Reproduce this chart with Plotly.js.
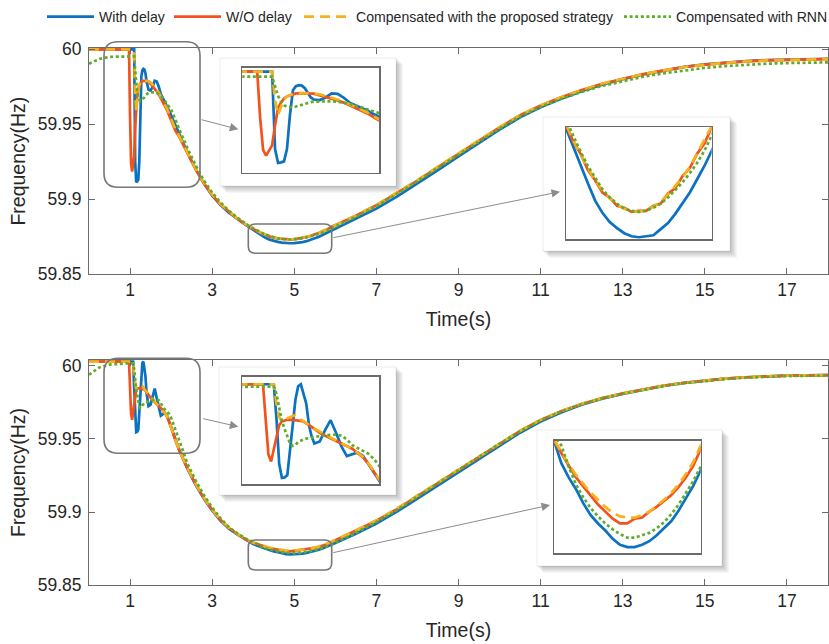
<!DOCTYPE html>
<html><head><meta charset="utf-8">
<script src="https://cdn.plot.ly/plotly-3.0.1.min.js"></script>
<style>html,body{margin:0;padding:0;background:#fff}#chart{width:829px;height:644px}</style>
</head><body><div id="chart"></div>
<script>
// ---------------- DATA ----------------
const time = [0, 0.25, 0.5, 0.75, 0.9,
  0.95, 0.975, 1.0, 1.025, 1.05, 1.075, 1.1, 1.125, 1.15, 1.175, 1.2, 1.225, 1.25, 1.275, 1.3, 1.325, 1.35, 1.375, 1.4, 1.425, 1.45,
  1.5, 1.55, 1.6, 1.65, 1.7, 1.75, 1.8, 1.85, 1.9, 1.95, 2.0,
  2.1, 2.2,
  2.4, 2.6, 2.8, 3.0, 3.2, 3.4, 3.6, 3.8,
  3.9, 4.0, 4.1, 4.2, 4.3, 4.4, 4.5, 4.6, 4.7, 4.8, 4.9, 5.0, 5.1, 5.2, 5.3, 5.4, 5.5, 5.6, 5.7, 5.8, 5.9, 6.0,
  6.5, 7, 7.5, 8, 8.5, 9, 9.5, 10, 10.5, 11, 11.5, 12, 12.5, 13, 13.5, 14, 14.5, 15, 15.5, 16, 16.5, 17, 17.5, 18];

// upper panel
const topWithDelay = [60, 60, 60, 60, 60,
  60, 60, 60, 60, 60, 60, 60, 59.925, 59.9114, 59.912, 59.913, 59.925, 59.958, 59.982, 59.986, 59.987, 59.9865, 59.984, 59.979, 59.975, 59.973,
  59.9725, 59.975, 59.979, 59.9785, 59.975, 59.970, 59.9675, 59.965, 59.9625, 59.959, 59.956,
  59.9495, 59.943,
  59.931, 59.920, 59.9105, 59.9025, 59.8963, 59.8913, 59.887, 59.8832,
  59.8814, 59.8795, 59.8778, 59.876, 59.8743, 59.8731, 59.8722, 59.8716, 59.8711, 59.8708, 59.8707, 59.8708, 59.8709, 59.8715, 59.8721, 59.873, 59.8741, 59.8751, 59.8764, 59.8777, 59.8792, 59.8806,
  59.8868, 59.8938, 59.9018, 59.9104, 59.9195, 59.9286, 59.9377, 59.9464, 59.9546, 59.9613, 59.967, 59.972, 59.9764, 59.9801, 59.9832, 59.9858, 59.9883, 59.99, 59.9912, 59.9921, 59.9928, 59.9932, 59.9935, 59.9937];
const topNoDelay = [60, 60, 60, 60, 60,
  60, 60, 59.955, 59.924, 59.9185, 59.923, 59.9285, 59.948, 59.965, 59.970, 59.974, 59.976, 59.977, 59.978, 59.979, 59.979, 59.979, 59.979, 59.979, 59.979, 59.9787,
  59.977, 59.9755, 59.974, 59.972, 59.970, 59.9675, 59.965, 59.9625, 59.9595, 59.956, 59.9526,
  59.946, 59.9415,
  59.9305, 59.920, 59.9105, 59.903, 59.8967, 59.8917, 59.8873, 59.8835,
  59.8817, 59.8801, 59.8789, 59.8773, 59.8763, 59.8751, 59.8746, 59.8738, 59.8736, 59.8732, 59.8733, 59.8733, 59.8738, 59.874, 59.875, 59.8755, 59.8767, 59.8775, 59.8789, 59.8799, 59.8815, 59.8827,
  59.889, 59.896, 59.904, 59.9125, 59.9215, 59.9305, 59.9395, 59.948, 59.956, 59.9625, 59.968, 59.9728, 59.977, 59.9805, 59.9835, 59.986, 59.9882, 59.9898, 59.991, 59.9919, 59.9926, 59.993, 59.9933, 59.9935];
const topProposed = [60, 60, 60, 60, 60,
  60, 60, 60, 60, 60, 60, 60, 59.972, 59.958, 59.966, 59.973, 59.976, 59.9775, 59.9785, 59.979, 59.9795, 59.9795, 59.9792, 59.979, 59.9788, 59.9785,
  59.978, 59.9765, 59.975, 59.973, 59.971, 59.9685, 59.966, 59.9635, 59.9605, 59.957, 59.9535,
  59.947, 59.942,
  59.931, 59.9203, 59.911, 59.9033, 59.897, 59.892, 59.8875, 59.8836,
  59.8818, 59.8802, 59.8788, 59.8775, 59.8763, 59.8753, 59.8745, 59.8739, 59.8735, 59.8733, 59.8732, 59.8734, 59.8737, 59.8742, 59.8749, 59.8757, 59.8766, 59.8776, 59.8788, 59.88, 59.8813, 59.8826,
  59.8893, 59.8963, 59.9043, 59.9128, 59.9218, 59.9307, 59.9397, 59.9482, 59.9561, 59.9626, 59.968, 59.9728, 59.977, 59.9805, 59.9835, 59.986, 59.9882, 59.9898, 59.991, 59.9919, 59.9926, 59.993, 59.9933, 59.9935];
const topRNN = [59.9904, 59.9935, 59.995, 59.9953, 59.9953,
  59.9953, 59.9953, 59.9953, 59.9953, 59.9953, 59.9953, 59.9953, 59.986, 59.9765, 59.971, 59.9675, 59.966, 59.9655, 59.9656, 59.9662, 59.9672, 59.968, 59.969, 59.970, 59.9705, 59.971,
  59.9713, 59.9713, 59.9712, 59.971, 59.970, 59.9688, 59.9672, 59.9655, 59.9637, 59.9618, 59.9598,
  59.9535, 59.9465,
  59.934, 59.9225, 59.9125, 59.9045, 59.898, 59.8926, 59.888, 59.8838,
  59.8822, 59.8807, 59.8791, 59.8777, 59.8765, 59.8754, 59.8746, 59.874, 59.8735, 59.8733, 59.8732, 59.8733, 59.8736, 59.874, 59.8746, 59.8753, 59.8761, 59.877, 59.878, 59.8792, 59.8805, 59.8818,
  59.8885, 59.8956, 59.9036, 59.9121, 59.921, 59.9298, 59.9387, 59.9472, 59.9552, 59.9617, 59.967, 59.9716, 59.9756, 59.9788, 59.9817, 59.984, 59.986, 59.9876, 59.9888, 59.9897, 59.9904, 59.9908, 59.9911, 59.9913];

// lower panel
const botWithDelay = [60.003, 60.003, 60.003, 60.003, 60.003,
  60.003, 60.003, 60.003, 60.003, 60.003, 60.003, 59.985, 59.962, 59.9547, 59.955, 59.9562, 59.968, 59.982, 59.995, 60.002, 60.003, 59.9985, 59.993, 59.982, 59.976, 59.9725,
  59.9735, 59.9795, 59.9845, 59.978, 59.971, 59.966, 59.967, 59.9678, 59.966, 59.962, 59.9575,
  59.949, 59.9425,
  59.9295, 59.9185, 59.909, 59.901, 59.8942, 59.8888, 59.8848, 59.8813,
  59.880, 59.8781, 59.8769, 59.8759, 59.8747, 59.8737, 59.873, 59.8724, 59.8717, 59.8712, 59.871, 59.871, 59.8712, 59.8715, 59.872, 59.8726, 59.8732, 59.8741, 59.8752, 59.8762, 59.8775, 59.8788,
  59.8851, 59.8921, 59.9002, 59.9092, 59.9183, 59.9274, 59.9365, 59.9456, 59.9543, 59.962, 59.9682, 59.9734, 59.9776, 59.9809, 59.9838, 59.9864, 59.9884, 59.99, 59.9913, 59.9923, 59.993, 59.9934, 59.9936, 59.9937];
const botNoDelay = [60.003, 60.003, 60.003, 60.003, 60.003,
  60.003, 60.003, 59.985, 59.967, 59.9632, 59.969, 59.976, 59.982, 59.9839, 59.9844, 59.9847, 59.9848, 59.9847, 59.9845, 59.9843, 59.9841, 59.9838, 59.983, 59.982, 59.981, 59.980,
  59.978, 59.9765, 59.9752, 59.9737, 59.9722, 59.971, 59.9698, 59.9675, 59.9653, 59.962, 59.9575,
  59.9495, 59.942,
  59.9298, 59.919, 59.9095, 59.9015, 59.8947, 59.8892, 59.885, 59.8814,
  59.880, 59.8789, 59.8779, 59.8769, 59.8761, 59.8753, 59.8746, 59.874, 59.8734, 59.873, 59.873, 59.8734, 59.8735, 59.874, 59.8744, 59.8749, 59.8754, 59.8761, 59.8769, 59.8779, 59.8793, 59.8806,
  59.887, 59.894, 59.902, 59.911, 59.920, 59.929, 59.938, 59.947, 59.9555, 59.963, 59.969, 59.974, 59.978, 59.9812, 59.984, 59.9865, 59.9885, 59.990, 59.9913, 59.9923, 59.993, 59.9934, 59.9936, 59.9937];
const botProposed = [60.003, 60.003, 60.003, 60.003, 60.003,
  60.003, 60.003, 60.003, 60.003, 60.003, 60.003, 59.993, 59.986, 59.984, 59.985, 59.9855, 59.986, 59.9868, 59.9872, 59.9865, 59.9848, 59.984, 59.9832, 59.9822, 59.9812, 59.9802,
  59.9785, 59.977, 59.9755, 59.974, 59.9725, 59.9712, 59.9698, 59.9677, 59.9655, 59.9622, 59.9578,
  59.9498, 59.9422,
  59.930, 59.9193, 59.9098, 59.9017, 59.8949, 59.8894, 59.8852, 59.8815,
  59.8801, 59.879, 59.878, 59.8771, 59.8763, 59.8756, 59.875, 59.8744, 59.8739, 59.8736, 59.8735, 59.8735, 59.8737, 59.874, 59.8745, 59.875, 59.8756, 59.8763, 59.8772, 59.8782, 59.8796, 59.8809,
  59.8873, 59.8943, 59.9023, 59.9113, 59.9202, 59.9292, 59.9382, 59.9471, 59.9556, 59.9631, 59.9691, 59.9741, 59.978, 59.9812, 59.984, 59.9865, 59.9885, 59.990, 59.9913, 59.9923, 59.993, 59.9934, 59.9936, 59.9937];
const botRNN = [59.994, 59.999, 60.001, 60.0017, 60.0018,
  60.0018, 60.0018, 60.0018, 60.0018, 60.0018, 60.0018, 59.998, 59.99, 59.984, 59.980, 59.976, 59.9725, 59.9712, 59.9718, 59.9732, 59.974, 59.9746, 59.975, 59.9753, 59.9756, 59.9759,
  59.9763, 59.9767, 59.977, 59.9771, 59.9765, 59.9745, 59.9716, 59.970, 59.9685, 59.9672, 59.9645,
  59.957, 59.949,
  59.933, 59.9215, 59.9115, 59.903, 59.8958, 59.8899, 59.8855, 59.8818,
  59.8805, 59.8796, 59.8778, 59.8763, 59.8752, 59.8743, 59.8736, 59.873, 59.8725, 59.8721, 59.8718, 59.8718, 59.872, 59.8722, 59.8726, 59.8731, 59.8738, 59.8746, 59.8756, 59.8766, 59.8778, 59.879,
  59.8858, 59.8932, 59.9015, 59.9107, 59.9198, 59.9288, 59.9378, 59.9468, 59.9553, 59.9628, 59.9688, 59.9738, 59.9778, 59.981, 59.9838, 59.9863, 59.9883, 59.9898, 59.991, 59.992, 59.9927, 59.9931, 59.9933, 59.9934];

const seriesNames = ['With delay', 'W/O delay', 'Compensated with the proposed strategy', 'Compensated with RNN'];
const xTickVals = [1, 3, 5, 7, 9, 11, 13, 15, 17];
const xTickText = ['1', '3', '5', '7', '9', '11', '13', '15', '17'];
const yTickVals = [59.85, 59.9, 59.95, 60];
const yTickText = ['59.85', '59.9', '59.95', '60'];

// ---------------- STYLE / LAYOUT ----------------
const W = 829, H = 644, ML = 89, MR = 1, MT = 48, MB = 59;
const PW = W - ML - MR, PH = H - MT - MB;
const fx = p => (p - ML) / PW;
const fy = p => (H - MB - p) / PH;

const styles = [
  {color: '#0a72c0', width: 2.7, dash: 'solid'},
  {color: '#f2531c', width: 2.7, dash: 'solid'},
  {color: '#f6b11d', width: 2.7, dash: '10px,6px'},
  {color: '#5fac2b', width: 2.7, dash: '3px,2.6px'}
];
const FONT = '"Liberation Sans", Arial, Helvetica, sans-serif';
const TXT = '#262626';
const AX = '#6b6b6b';

const topSeries = [topWithDelay, topNoDelay, topProposed, topRNN];
const botSeries = [botWithDelay, botNoDelay, botProposed, botRNN];
const legendIds = ['legend', 'legend2', 'legend3', 'legend4'];

const traces = [];
function addSet(series, xa, ya, withLegend) {
  series.forEach((ys, i) => {
    traces.push({
      type: 'scatter', mode: 'lines', x: time, y: ys,
      xaxis: xa, yaxis: ya, name: seriesNames[i],
      line: styles[i], showlegend: withLegend,
      legend: legendIds[i], hoverinfo: 'skip'
    });
  });
}
addSet(topSeries, 'x', 'y', true);
addSet(topSeries, 'x3', 'y3', false);
addSet(topSeries, 'x4', 'y4', false);
addSet(botSeries, 'x2', 'y2', false);
addSet(botSeries, 'x5', 'y5', false);
addSet(botSeries, 'x6', 'y6', false);

function mainX(anchor, title) {
  return {
    domain: [0, 1], range: [0, 18], anchor: anchor,
    tickmode: 'array', tickvals: xTickVals, ticktext: xTickText,
    ticks: 'inside', ticklen: 6, tickwidth: 1, tickcolor: AX,
    showline: true, linecolor: AX, linewidth: 1, mirror: 'ticks',
    showgrid: false, zeroline: false, ticklabelstandoff: 0,
    tickfont: {family: FONT, size: 17.5, color: TXT},
    title: {text: title, font: {family: FONT, size: 19.5, color: TXT}, standoff: 13},
    automargin: false
  };
}
function mainY(domain, range, anchor) {
  return {
    domain: domain, range: range, anchor: anchor,
    tickmode: 'array', tickvals: yTickVals, ticktext: yTickText,
    ticks: 'inside', ticklen: 6, tickwidth: 1, tickcolor: AX,
    showline: true, linecolor: AX, linewidth: 1, mirror: 'ticks',
    showgrid: false, zeroline: false, ticklabelstandoff: 3,
    tickfont: {family: FONT, size: 17.5, color: TXT},
    title: {text: 'Frequency(Hz)', font: {family: FONT, size: 19.5, color: TXT}, standoff: 6},
    automargin: false
  };
}
function insetAxes(px0, px1, py0, py1, xr, yr, anchX, anchY) {
  const common = {showline: true, mirror: true, linecolor: '#6a6a6a', linewidth: 1.5,
    ticks: '', showticklabels: false, showgrid: false, zeroline: false, automargin: false};
  return [
    Object.assign({domain: [fx(px0), fx(px1)], range: xr, anchor: anchY}, common),
    Object.assign({domain: [fy(py1), fy(py0)], range: yr, anchor: anchX}, common)
  ];
}
const [x3, y3] = insetAxes(242.3, 379.3, 67.7, 172.7, [0.85, 2.0], [59.902, 60.0039], 'x3', 'y3');
const [x4, y4] = insetAxes(566, 711.7, 127.3, 239.3, [3.9, 5.9], [59.8705, 59.8815], 'x4', 'y4');
const [x5, y5] = insetAxes(242.3, 379.3, 376.7, 484, [0.784, 2.05], [59.9516, 60.0069], 'x5', 'y5');
const [x6, y6] = insetAxes(554, 700.7, 440.7, 553, [3.9, 5.9], [59.8705, 59.880], 'x6', 'y6');

// decorations (pixel boxes)
function rrect(x0, y0, x1, y1, r) {
  const X = v => fx(v).toFixed(5), Y = v => fy(v).toFixed(5);
  return `M${X(x0 + r)},${Y(y0)} L${X(x1 - r)},${Y(y0)} Q${X(x1)},${Y(y0)} ${X(x1)},${Y(y0 + r)} ` +
    `L${X(x1)},${Y(y1 - r)} Q${X(x1)},${Y(y1)} ${X(x1 - r)},${Y(y1)} L${X(x0 + r)},${Y(y1)} ` +
    `Q${X(x0)},${Y(y1)} ${X(x0)},${Y(y1 - r)} L${X(x0)},${Y(y0 + r)} Q${X(x0)},${Y(y0)} ${X(x0 + r)},${Y(y0)} Z`;
}
const shapes = [];
function panel(x0, y0, x1, y1) {
  for (let k = 1; k <= 7; k++) {
    shapes.push({type: 'rect', xref: 'paper', yref: 'paper', layer: 'below',
      x0: fx(x0 + k - 1), x1: fx(x1 + k), y0: fy(y1 + k), y1: fy(y0 + k - 1),
      line: {width: 0}, fillcolor: 'rgba(0,0,0,0.035)'});
  }
  shapes.push({type: 'rect', xref: 'paper', yref: 'paper', layer: 'below',
    x0: fx(x0), x1: fx(x1), y0: fy(y1), y1: fy(y0),
    line: {width: 1, color: 'rgba(0,0,0,0.07)'}, fillcolor: '#ffffff'});
}
panel(220, 58, 396, 186);
panel(543, 117, 730, 251);
panel(219, 367, 396, 495);
panel(537, 430, 722, 566);
[[104, 41.7, 200, 187.3, 14], [248.3, 224, 331.7, 253.3, 7],
 [104, 358.3, 200, 453.3, 14], [248.3, 540, 331.7, 570, 7]].forEach(b => {
  shapes.push({type: 'path', xref: 'paper', yref: 'paper', layer: 'above',
    path: rrect(b[0], b[1], b[2], b[3], b[4]), line: {color: '#777777', width: 1.6}});
});
const annotations = [[200, 119.3, 238.3, 129.3], [331.7, 238, 560, 191.7],
  [201.7, 418.3, 238.3, 426.7], [331.7, 553, 550, 505]].map(a => ({
  xref: 'paper', yref: 'paper', x: fx(a[2]), y: fy(a[3]),
  axref: 'pixel', ayref: 'pixel', ax: a[0] - a[2], ay: a[1] - a[3],
  text: '', showarrow: true, arrowhead: 2, arrowsize: 1.7, arrowwidth: 1, arrowcolor: '#8c8c8c'
}));

const legendPos = [42, 169, 299, 619];
const layout = {
  width: W, height: H,
  margin: {l: ML, r: MR, t: MT, b: MB},
  paper_bgcolor: '#ffffff', plot_bgcolor: '#ffffff',
  font: {family: FONT, color: TXT},
  showlegend: true,
  xaxis: mainX('y', 'Time(s)'),
  yaxis: mainY([fy(274.3), 1], [59.85, 60.00087], 'x'),
  xaxis2: mainX('y2', 'Time(s)'),
  yaxis2: mainY([0, fy(360)], [59.85, 60.0041], 'x2'),
  xaxis3: x3, yaxis3: y3, xaxis4: x4, yaxis4: y4,
  xaxis5: x5, yaxis5: y5, xaxis6: x6, yaxis6: y6,
  shapes: shapes, annotations: annotations
};
legendIds.forEach((id, i) => {
  layout[id] = {x: legendPos[i] / W, xref: 'container', y: 1 - 17 / H, yref: 'container',
    xanchor: 'left', yanchor: 'middle', orientation: 'h', itemwidth: 47,
    bgcolor: 'rgba(0,0,0,0)', borderwidth: 0,
    font: {family: FONT, size: 14.1, color: TXT}};
});

Plotly.newPlot('chart', traces, layout, {staticPlot: true, displayModeBar: false});
</script>
</body></html>
